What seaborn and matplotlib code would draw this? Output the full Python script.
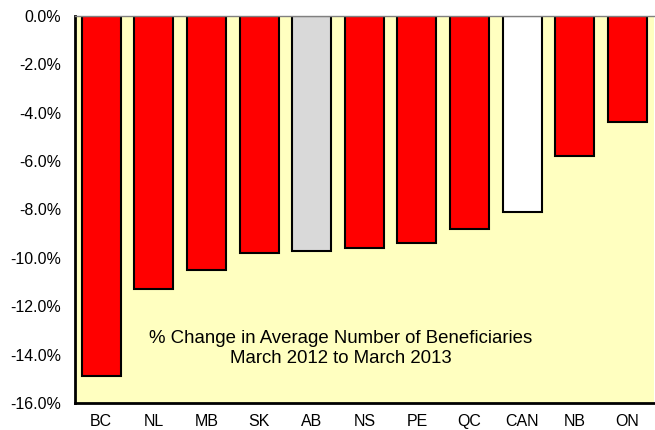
import matplotlib
matplotlib.use("Agg")
import matplotlib.pyplot as plt
import matplotlib.ticker as mticker
import seaborn as sns
import pandas as pd

provinces = ["BC", "NL", "MB", "SK", "AB", "NS", "PE", "QC", "CAN", "NB", "ON"]
pct_change = [-14.9, -11.3, -10.5, -9.8, -9.7, -9.6, -9.4, -8.8, -8.1, -5.8, -4.4]
bar_colors = ["#FF0000", "#FF0000", "#FF0000", "#FF0000", "#D9D9D9", "#FF0000",
              "#FF0000", "#FF0000", "#FFFFFF", "#FF0000", "#FF0000"]
y_ticks = [0, -2, -4, -6, -8, -10, -12, -14, -16]

sns.set_style("white", {"text.color": "black", "xtick.color": "black", "ytick.color": "black"})
plt.rcParams["font.family"] = ["Liberation Sans", "DejaVu Sans"]

df = pd.DataFrame({"Province": provinces, "Change": pct_change})

fig = plt.figure(figsize=(6.55, 4.30), dpi=100)
ax = fig.add_axes([0.1145, 0.0628, 0.8835, 0.9002])
ax.set_facecolor("#FFFFC0")

sns.barplot(x="Province", y="Change", hue="Province", data=df, palette=bar_colors,
            legend=False, width=0.74, edgecolor="black", linewidth=1.5,
            saturation=1, ax=ax)

ax.set_ylim(-16, 0)
ax.set_xlim(-0.5, len(provinces) - 0.5)
ax.set_yticks(y_ticks)
ax.yaxis.set_major_formatter(mticker.FuncFormatter(lambda v, p: f"{v:.1f}%"))
ax.tick_params(axis="y", direction="in", length=4, width=1, labelsize=11.5, pad=10,
               colors="black")
ax.tick_params(axis="x", length=0, labelsize=11.5, pad=8, colors="black")
ax.set_xlabel("")
ax.set_ylabel("")

for side in ["left", "bottom"]:
    ax.spines[side].set_color("black")
    ax.spines[side].set_linewidth(2)
ax.spines["top"].set_color("#808080")
ax.spines["top"].set_linewidth(1)
ax.spines["right"].set_visible(False)

ax.text(4.55, -13.75, "% Change in Average Number of Beneficiaries\nMarch 2012 to March 2013",
        ha="center", va="center", fontsize=13.4, linespacing=1.22, color="black")

plt.savefig("out.png", dpi=100)
plt.close()
